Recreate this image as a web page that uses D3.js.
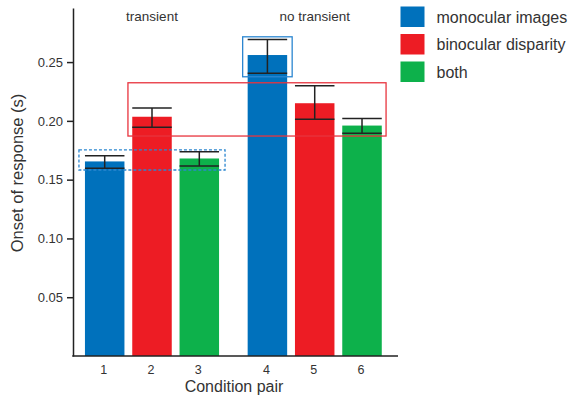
<!DOCTYPE html>
<html>
<head>
<meta charset="utf-8">
<script src="https://cdn.jsdelivr.net/npm/d3@7"></script>
<style>
  body { margin: 0; background: #fff; }
  svg text { font-family: "Liberation Sans", Arial, Helvetica, sans-serif; fill: #333; }
</style>
</head>
<body>
<script>
// data
const pairs = ["1", "2", "3", "4", "5", "6"];
const cues = ["monocular images", "binocular disparity", "both", "monocular images", "binocular disparity", "both"];
const onset = [0.1655, 0.2035, 0.1680, 0.2560, 0.2150, 0.1960];
const errLow = [0.1597, 0.1945, 0.1617, 0.2404, 0.2013, 0.1894];
const errHigh = [0.1703, 0.2110, 0.1737, 0.2693, 0.2299, 0.2021];
const groupLabels = ["transient", "no transient"];
const legendItems = ["monocular images", "binocular disparity", "both"];
const yTicks = [0.05, 0.10, 0.15, 0.20, 0.25];

const colors = {
  "monocular images": "#0071bc",
  "binocular disparity": "#ed1c24",
  "both": "#0db14b"
};

const width = 573, height = 395;
const svg = d3.select("body").append("svg")
  .attr("width", width).attr("height", height);

// x position: second group shifted by a gap
const slot = (d, i) => i + (i >= 3 ? 0.44 : 0);
const x = d3.scaleLinear().domain([0, 1]).range([104.7, 152]);
const barW = 39.5;

const y = d3.scaleLinear().domain([0, 0.296]).range([356, 8]);

// bars
svg.append("g")
  .selectAll("rect")
  .data(onset)
  .enter()
  .append("rect")
    .attr("x", (d, i) => x(slot(d, i)) - barW / 2)
    .attr("y", d => y(d))
    .attr("width", barW)
    .attr("height", d => y(0) - y(d))
    .attr("fill", (d, i) => colors[cues[i]]);

// error bars
const err = svg.append("g").attr("stroke", "#222").attr("stroke-width", 1.5);
onset.forEach((d, i) => {
  const cx = x(slot(d, i));
  err.append("line").attr("x1", cx).attr("x2", cx).attr("y1", y(errLow[i])).attr("y2", y(errHigh[i]));
  err.append("line").attr("x1", cx - barW / 2).attr("x2", cx + barW / 2).attr("y1", y(errLow[i])).attr("y2", y(errLow[i]));
  err.append("line").attr("x1", cx - barW / 2).attr("x2", cx + barW / 2).attr("y1", y(errHigh[i])).attr("y2", y(errHigh[i]));
});

// highlight boxes
const boxes = [
  { from: 0, to: 2, lo: 0.1582, hi: 0.1754, pad: 6, color: "#2b86d0", dash: "3,2" },
  { from: 1, to: 5, lo: 0.1871, hi: 0.2324, pad: 4.3, color: "#e8343e", dash: null },
  { from: 3, to: 3, lo: 0.2375, hi: 0.2715, pad: 5, color: "#2b86d0", dash: null }
];
svg.append("g")
  .selectAll("rect")
  .data(boxes)
  .enter()
  .append("rect")
    .attr("x", d => x(slot(0, d.from)) - barW / 2 - d.pad)
    .attr("y", d => y(d.hi))
    .attr("width", d => x(slot(0, d.to)) - x(slot(0, d.from)) + barW + 2 * d.pad)
    .attr("height", d => y(d.lo) - y(d.hi))
    .attr("fill", "none")
    .attr("stroke", d => d.color)
    .attr("stroke-width", 1.3)
    .attr("stroke-dasharray", d => d.dash);

// axes
const yAxis = svg.append("g")
  .attr("transform", "translate(73,0)")
  .call(d3.axisLeft(y).tickValues(yTicks).tickFormat(d3.format(".2f")).tickSize(6).tickSizeOuter(0));
yAxis.select(".domain").attr("stroke", "#222").attr("stroke-width", 1.5);
yAxis.selectAll(".tick line").attr("stroke", "#222").attr("stroke-width", 1.5);
yAxis.selectAll(".tick text").attr("x", -10).style("font-size", "13px").attr("fill", "#333");

svg.append("line")
  .attr("x1", 72.25).attr("x2", 398)
  .attr("y1", y(0)).attr("y2", y(0))
  .attr("stroke", "#222").attr("stroke-width", 1.5);

svg.append("g")
  .selectAll("text")
  .data(pairs)
  .enter()
  .append("text")
    .attr("x", (d, i) => x(slot(d, i)) - 1)
    .attr("y", 373.5)
    .attr("text-anchor", "middle")
    .style("font-size", "12.5px")
    .text(d => d);

svg.append("text")
  .attr("x", 234).attr("y", 392)
  .attr("text-anchor", "middle")
  .style("font-size", "16px")
  .text("Condition pair");

svg.append("text")
  .attr("transform", "translate(23,173)rotate(-90)")
  .attr("text-anchor", "middle")
  .style("font-size", "16.5px")
  .text("Onset of response (s)");

// group labels
svg.append("g")
  .selectAll("text")
  .data(groupLabels)
  .enter()
  .append("text")
    .attr("x", (d, i) => x(slot(0, i * 3 + 1)))
    .attr("y", 20.5)
    .attr("text-anchor", "middle")
    .style("font-size", "13.5px")
    .text(d => d);

// legend
const legend = svg.append("g").attr("transform", "translate(400.5,6.5)");
legendItems.forEach((d, i) => {
  legend.append("rect")
    .attr("x", 0).attr("y", i * 27.5)
    .attr("width", 24).attr("height", 20.5)
    .attr("fill", colors[d]);
  legend.append("text")
    .attr("x", 36).attr("y", i * 27.5 + 10.5)
    .attr("dy", "0.35em")
    .style("font-size", "16px")
    .text(d);
});
</script>
</body>
</html>
